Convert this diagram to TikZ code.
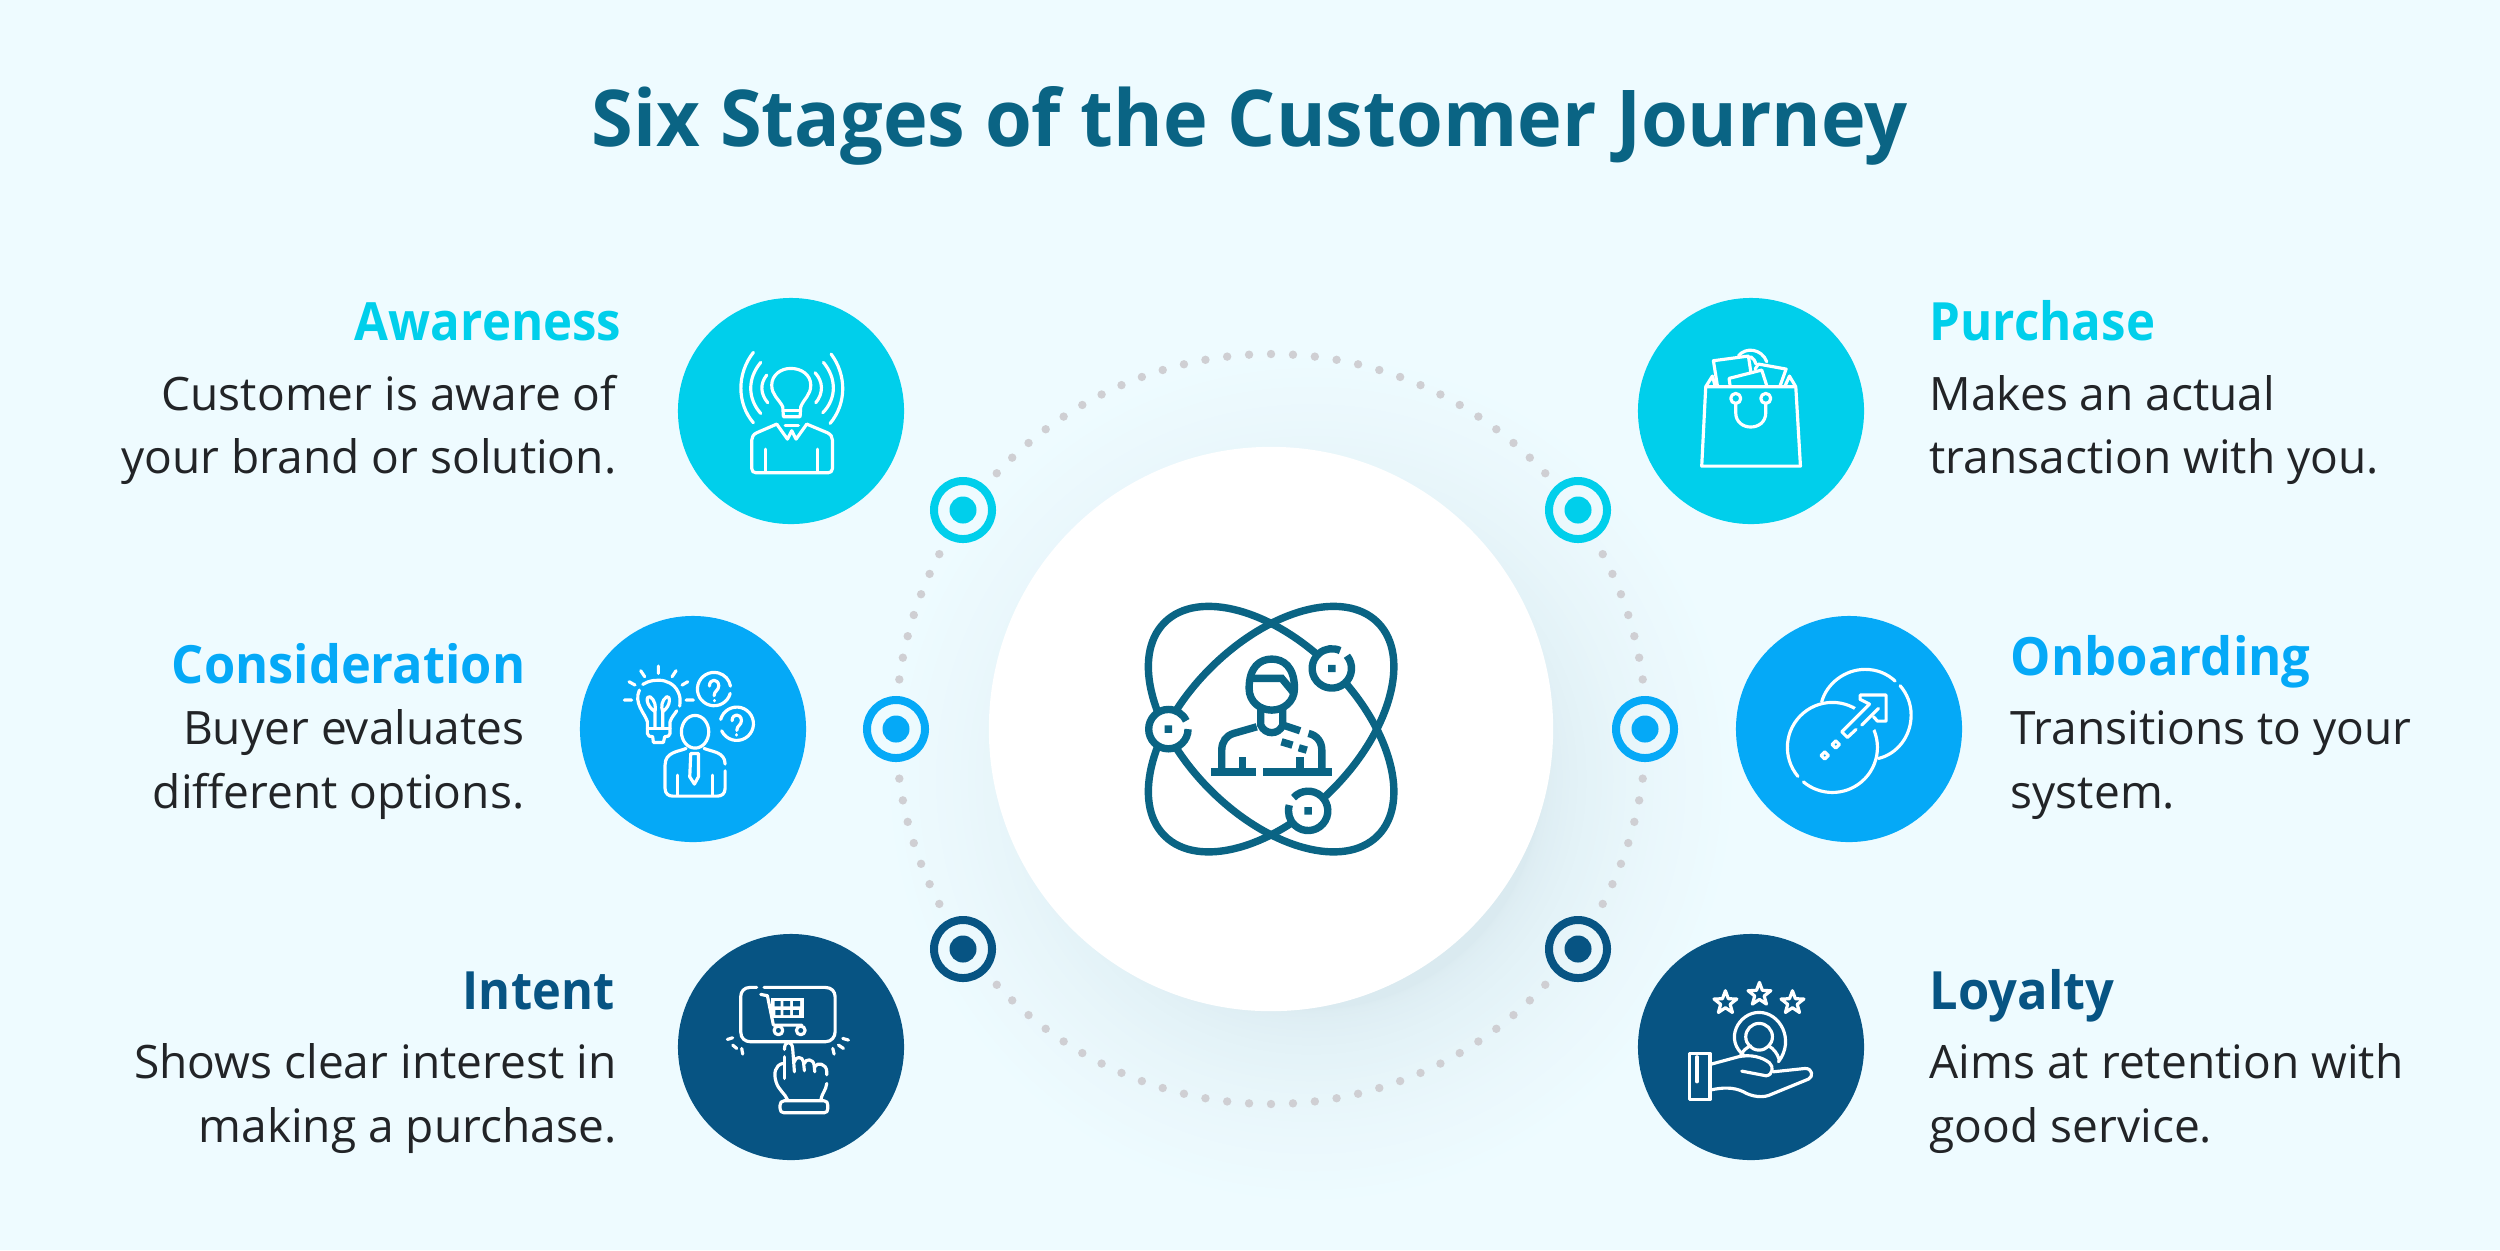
\documentclass[tikz,border=0pt]{standalone}
\usepackage{fontspec}
\setmainfont{Open Sans}
\definecolor{bgc}{HTML}{EEFBFF}
\definecolor{cyanc}{HTML}{00CFEB}
\definecolor{bluec}{HTML}{05A9F7}
\definecolor{darkc}{HTML}{075483}
\definecolor{tealc}{HTML}{0A6484}
\definecolor{bodyc}{HTML}{222427}
\definecolor{dotc}{HTML}{CFCFD3}
\definecolor{shadc}{HTML}{DAEAF0}
\tikzset{
 big/.style={circle,minimum size=2.26cm,inner sep=0pt,draw=none},
 ringo/.style={draw=#1,line width=.08cm},
 head/.style={font=\fontsize{15}{18}\selectfont\bfseries,text=#1,inner sep=0pt},
 bodytxt/.style={font=\fontsize{13.1}{18}\selectfont,text=bodyc,inner sep=0pt},
 ic/.style={line width=.9pt,draw=white,line cap=round,line join=round},
 cic/.style={line width=2.1pt,draw=tealc,line join=miter,line cap=butt},
 zoomed/.style={x=.033333mm,y=-.033333mm},
}
\newcommand{\garc}[5]{(#1,#2)++(#4:#3) arc[start angle=#4,end angle=#5,radius=#3]}
\newcommand{\lstar}[2]{\draw[ic] (#1,#2)++(-90:36) -- ++(0,0) -- ($(#1,#2)+(-54:15)$) -- ($(#1,#2)+(-18:36)$) -- ($(#1,#2)+(18:15)$) -- ($(#1,#2)+(54:36)$) -- ($(#1,#2)+(90:15)$) -- ($(#1,#2)+(126:36)$) -- ($(#1,#2)+(162:15)$) -- ($(#1,#2)+(198:36)$) -- ($(#1,#2)+(234:15)$) -- cycle;}
\newcommand{\hsc}[2]{\scalebox{#1}[1]{#2}}
\usetikzlibrary{calc}
\begin{document}
\begin{tikzpicture}[x=.01cm,y=-.01cm]
\useasboundingbox (0,0) rectangle (2500,1250);
\fill[bgc] (0,0) rectangle (2500,1250);
% shadow: opaque rings fading into the background
\foreach \k in {1,...,40}{
 \pgfmathsetmacro{\rr}{230+200*(1-\k/40)*(1-\k/40)}
 \pgfmathsetmacro{\pp}{100*\k/40}
 \fill[shadc!\pp!bgc] (1311,779) circle[radius=\rr];
}
% dotted ring
\foreach \sa/\ea/\n in {7.6/27.8/6, 43/137/28, 152.2/172.4/6, 187.6/207.8/6, 223/317/28, 332.2/352.4/6}{
 \foreach \k in {0,...,\n}{
  \fill[dotc] ({1271+375*cos(\sa+(\ea-\sa)*\k/\n)},{729+375*sin(\sa+(\ea-\sa)*\k/\n)}) circle[radius=4.2];
 }
}
% centre
\node[circle,fill=white,minimum size=5.64cm,inner sep=0pt] (core) at (1271,729) {};
% rings
\foreach \nm/\cx/\cy/\col in {ra/963/510/cyanc, rb/896/729/bluec, rc/963/949/darkc, rd/1578/510/cyanc, re/1645/729/bluec, rf/1578/949/darkc}{
 \node[circle,ringo=\col,minimum size=.58cm,inner sep=0pt] (\nm) at (\cx,\cy) {};
 \node[circle,fill=\col,minimum size=.27cm,inner sep=0pt] (\nm i) at (\cx,\cy) {};
}
% big circles
\node[big,fill=cyanc] (aw) at (791,411) {};
\node[big,fill=bluec] (co) at (693,729) {};
\node[big,fill=darkc] (in) at (791,1047) {};
\node[big,fill=cyanc] (pu) at (1751,411) {};
\node[big,fill=bluec] (on) at (1849,729) {};
\node[big,fill=darkc] (lo) at (1751,1047) {};
% title
\node[font=\fontsize{22.3}{28}\selectfont\bfseries,text=tealc,inner sep=0pt,anchor=base] (title) at (1250,146) {\hsc{.965}{Six Stages of the Customer Journey}};
% left text
\node[head=cyanc,anchor=base east] (t1) at (622,340) {\hsc{.932}{Awareness}};
\node[bodytxt,anchor=base east] (t1a) at (617,410) {Customer is aware of};
\node[bodytxt,anchor=base east] (t1b) at (617,473.5) {your brand or solution.};
\node[head=bluec,anchor=base east] (t2) at (526,683) {\hsc{.958}{Consideration}};
\node[bodytxt,anchor=base east] (t2a) at (525,744) {Buyer evaluates};
\node[bodytxt,anchor=base east] (t2b) at (525,808) {different options.};
\node[head=darkc,anchor=base east] (t3) at (615,1009) {\hsc{.925}{Intent}};
\node[bodytxt,anchor=base east] (t3a) at (617,1078.5) {Shows clear interest in};
\node[bodytxt,anchor=base east] (t3b) at (617,1142.5) {making a purchase.};
% right text
\node[head=cyanc,anchor=base west] (t4) at (1929,340) {\hsc{.933}{Purchase}};
\node[bodytxt,anchor=base west] (t4a) at (1929,410) {Makes an actual};
\node[bodytxt,anchor=base west] (t4b) at (1929,473.5) {transaction with you.};
\node[head=bluec,anchor=base west] (t5) at (2010,675) {\hsc{.963}{Onboarding}};
\node[bodytxt,anchor=base west] (t5a) at (2010,744) {Transitions to your};
\node[bodytxt,anchor=base west] (t5b) at (2010,808) {system.};
\node[head=darkc,anchor=base west] (t6) at (1929,1009) {\hsc{.96}{Loyalty}};
\node[bodytxt,anchor=base west] (t6a) at (1929,1078.5) {Aims at retention with};
\node[bodytxt,anchor=base west] (t6b) at (1929,1142.5) {good service.};
% centre icon
\begin{scope}[shift={(1100,560)},zoomed]
 \draw[cic,rotate around={45:(513,507)}] (513,507) ellipse[x radius=452,y radius=258];
 \draw[cic,rotate around={-45:(513,507)}] (513,507) ellipse[x radius=452,y radius=258];
 \fill[white] (205,507) circle[radius=59] (695,325) circle[radius=59] (624,752) circle[radius=59];
 \draw[cic] \garc{205}{507}{59}{0}{335};
 \draw[cic] \garc{695}{325}{59}{-40}{295};
 \draw[cic] \garc{624}{752}{59}{222}{557};
 \fill[tealc] (194,496) rectangle (216,518) (684,314) rectangle (706,336) (613,741) rectangle (635,763);
 \draw[cic] (447,385) .. controls (447,320) and (480,297) .. (515,297) .. controls (550,297) and (583,320) .. (583,385) .. controls (583,425) and (550,450) .. (515,450) .. controls (480,450) and (447,425) .. (447,385) -- cycle;
 \draw[cic] (447,355) -- (545,355) -- (578,395);
 \draw[cic] (482,445) -- (482,495) .. controls (495,525) and (535,525) .. (548,495) -- (548,445);
 \draw[cic] (470,500) -- (400,520) .. controls (378,527) and (365,545) .. (365,570) -- (365,630);
 \draw[cic] (555,497) -- (600,512);
 \draw[cic] (625,520) .. controls (650,525) and (665,545) .. (665,570) -- (665,630);
 \draw[cic] (332,635) -- (467,635) (490,635) -- (695,635);
 \draw[cic] (428,592) -- (428,630) (600,592) -- (600,630);
 \draw[cic] (544,545) -- (577,555) (596,563) -- (620,570);
\end{scope}
% awareness icon
\begin{scope}[shift={(670,290)},zoomed]
 \draw[ic] (340,380) -- (338,350) .. controls (325,325) and (305,315) .. (305,285) .. controls (305,255) and (332,235) .. (362,235) .. controls (395,235) and (422,255) .. (422,285) .. controls (422,315) and (402,325) .. (392,350) -- (390,380) -- cycle;
 \draw[ic] (340,362) -- (390,362);
 \draw[ic] (250,187) .. controls (200,250) and (200,340) .. (250,398);
 \draw[ic] (272,217) .. controls (232,265) and (232,325) .. (272,370);
 \draw[ic] (290,255) .. controls (270,280) and (270,310) .. (293,338);
 \draw[ic] (483,192) .. controls (530,255) and (530,340) .. (480,400);
 \draw[ic] (460,217) .. controls (500,265) and (500,325) .. (458,368);
 \draw[ic] (435,248) .. controls (460,275) and (460,310) .. (437,338);
 \draw[ic] (320,402) -- (260,428) .. controls (250,433) and (245,440) .. (245,450) -- (245,535) .. controls (245,543) and (250,548) .. (258,548) -- (474,548) .. controls (482,548) and (487,543) .. (487,535) -- (487,450) .. controls (487,440) and (482,433) .. (472,428) -- (410,402);
 \draw[ic] (320,402) -- (352,447) -- (365,422) -- (378,447) -- (410,402);
 \draw[ic] (345,407) -- (385,407);
 \draw[ic] (287,477) -- (287,545) (443,477) -- (443,545);
\end{scope}
% consideration icon
\begin{scope}[shift={(570,620)},zoomed]
 \draw[ic] (218,193) .. controls (255,170) and (320,175) .. (330,235) .. controls (330,242) and (330,250) .. (329,258);
 \draw[ic] (208,210) .. controls (190,250) and (225,280) .. (232,305) -- (232,340) .. controls (232,348) and (240,350) .. (248,350) -- (250,367) -- (280,367) -- (284,350) .. controls (292,350) and (300,348) .. (300,340) -- (300,305) .. controls (305,290) and (312,285) .. (320,272);
 \draw[ic] (232,325) -- (300,325);
 \draw[ic] (255,320) -- (255,275) .. controls (225,255) and (228,225) .. (240,230) .. controls (255,240) and (258,260) .. (255,275);
 \draw[ic] (278,320) -- (278,275) .. controls (305,255) and (300,225) .. (290,230) .. controls (275,240) and (272,260) .. (278,275);
 \draw[ic] (163,240) -- (185,240) (177,185) -- (195,195) (212,152) -- (224,170) (265,138) -- (265,160) (318,152) -- (306,170) (353,185) -- (336,195) (348,240) -- (370,240);
 \draw[ic] \garc{432}{207}{50}{15}{350};
 \draw[ic] (418,198) .. controls (418,175) and (445,175) .. (446,197) .. controls (446,212) and (432,212) .. (432,227);
 \draw[ic] (432,241) -- (432,242);
 \draw[ic] \garc{500}{311}{50}{195}{515};
 \draw[ic] (486,302) .. controls (486,279) and (513,279) .. (514,301) .. controls (514,316) and (500,316) .. (500,331);
 \draw[ic] (500,344) -- (500,345);
 \draw[ic] (375,335) ellipse[x radius=41,y radius=49];
 \draw[ic] (348,385) .. controls (325,395) and (285,395) .. (285,435) -- (285,505) .. controls (285,520) and (295,528) .. (308,528) -- (442,528) .. controls (455,528) and (465,520) .. (465,505) -- (465,452);
 \draw[ic] (402,385) .. controls (425,395) and (465,395) .. (465,432);
 \draw[ic] (362,400) -- (385,400) -- (385,470) -- (373,492) -- (359,470) -- cycle;
 \draw[ic] (322,465) -- (322,525) (427,465) -- (427,525);
\end{scope}
% intent icon
\begin{scope}[shift={(670,930)},zoomed]
 \draw[ic] (260,172) -- (240,172) .. controls (222,172) and (212,185) .. (212,200) -- (212,305) .. controls (212,325) and (225,335) .. (242,335) -- (465,335) .. controls (485,335) and (495,320) .. (495,305) -- (495,200) .. controls (495,185) and (485,172) .. (465,172) -- (282,172);
 \draw[ic] (272,193) -- (292,197) -- (310,285) -- (395,285);
 \fill[white] (302,203) rectangle (402,265);
 \fill[darkc] (314,213) rectangle (332,229) (340,213) rectangle (360,229) (369,213) rectangle (390,229) (316,240) rectangle (332,255) (340,240) rectangle (360,255) (369,240) rectangle (386,255);
 \draw[ic] (325,301) circle[radius=13] (392,301) circle[radius=13];
 \draw[ic] (343,358) .. controls (343,330) and (367,330) .. (368,358) -- (373,425);
 \draw[ic] (343,380) -- (343,445);
 \draw[ic] (373,395) .. controls (375,378) and (398,378) .. (400,395) -- (403,422);
 \draw[ic] (403,400) .. controls (405,385) and (430,385) .. (432,405) -- (434,425);
 \draw[ic] (434,410) .. controls (440,395) and (470,400) .. (470,425) -- (470,434);
 \draw[ic] (338,400) .. controls (315,405) and (310,430) .. (318,455) .. controls (325,480) and (345,490) .. (353,510);
 \draw[ic] (470,460) .. controls (468,480) and (455,490) .. (452,510);
 \draw[ic] (342,512) -- (462,512) .. controls (470,512) and (473,518) .. (473,525) -- (473,535) .. controls (473,543) and (470,548) .. (462,548) -- (342,548) .. controls (334,548) and (330,543) .. (330,535) -- (330,525) .. controls (330,518) and (334,512) .. (342,512) -- cycle;
 \draw[ic] (172,328) -- (188,323) (188,345) -- (200,355) (215,355) -- (218,372) (518,325) -- (535,330) (505,345) -- (520,355) (488,355) -- (492,372);
\end{scope}
% purchase icon
\begin{scope}[shift={(1630,290)},zoomed]
 \draw[ic] (227,290) -- (497,290) -- (511,528) -- (215,528) -- cycle;
 \draw[ic] (227,290) -- (247,258) -- (255,287) (497,290) -- (478,258) -- (465,287);
 \draw[ic] (262,287) -- (250,212) -- (355,198) -- (362,245);
 \draw[ic] (300,287) -- (297,265) -- (395,240) -- (410,287);
 \draw[ic] (375,237) -- (385,222) -- (468,237) -- (450,287);
 \draw[ic] (325,198) .. controls (345,170) and (395,175) .. (410,215);
 \draw[ic] (362,200) .. controls (370,205) and (375,212) .. (378,222);
 \draw[ic] (317,325) circle[radius=15] (407,325) circle[radius=15];
 \draw[ic] (317,342) -- (317,368) .. controls (317,425) and (407,425) .. (407,368) -- (407,342);
\end{scope}
% onboarding icon
\begin{scope}[shift={(1730,620)},zoomed]
 \draw[ic] \garc{307}{382}{135}{140}{490};
 \draw[ic] (275,245) .. controls (290,190) and (345,148) .. (405,148) .. controls (440,148) and (470,160) .. (495,183);
 \draw[ic] (510,197) .. controls (530,220) and (543,250) .. (543,285) .. controls (543,350) and (500,402) .. (445,415);
 \fill[bluec] (350,300) -- (400,230) -- (475,230) -- (475,300) -- (400,350) -- cycle;
 \draw[ic] (378,328) -- (352,352) -- (335,335) -- (418,252) -- (390,238) -- (390,225) -- (468,225) -- (468,303) -- (442,303) -- (430,290);
 \draw[ic] (445,265) -- (395,315);
 \draw[ic] (317,362) -- (328,373) -- (317,384) -- (306,373) -- cycle;
 \draw[ic] (284,395) -- (295,406) -- (284,417) -- (273,406) -- cycle;
\end{scope}
% loyalty icon
\begin{scope}[shift={(1630,930)},zoomed]
 \lstar{286}{218}
 \lstar{388}{193}
 \lstar{487}{218}
 \draw[ic] (344,378) .. controls (280,330) and (325,247) .. (387,247) .. controls (450,247) and (495,330) .. (445,395);
 \draw[ic] (387,320) circle[radius=40];
 \draw[ic] (332,375) .. controls (338,362) and (350,352) .. (362,347);
 \draw[ic] (415,347) .. controls (430,355) and (442,370) .. (447,388);
 \draw[ic] (178,370) rectangle (240,508);
 \draw[ic] (201,380) -- (201,455);
 \draw[ic] (240,403) -- (325,380) .. controls (360,372) and (395,380) .. (418,398) .. controls (432,410) and (428,435) .. (408,437) -- (335,423);
 \draw[ic] (430,425) -- (525,415) .. controls (548,415) and (550,440) .. (535,447) -- (425,492) .. controls (400,505) and (365,500) .. (340,485) .. controls (310,470) and (275,472) .. (240,480);
\end{scope}
\end{tikzpicture}
\end{document}
